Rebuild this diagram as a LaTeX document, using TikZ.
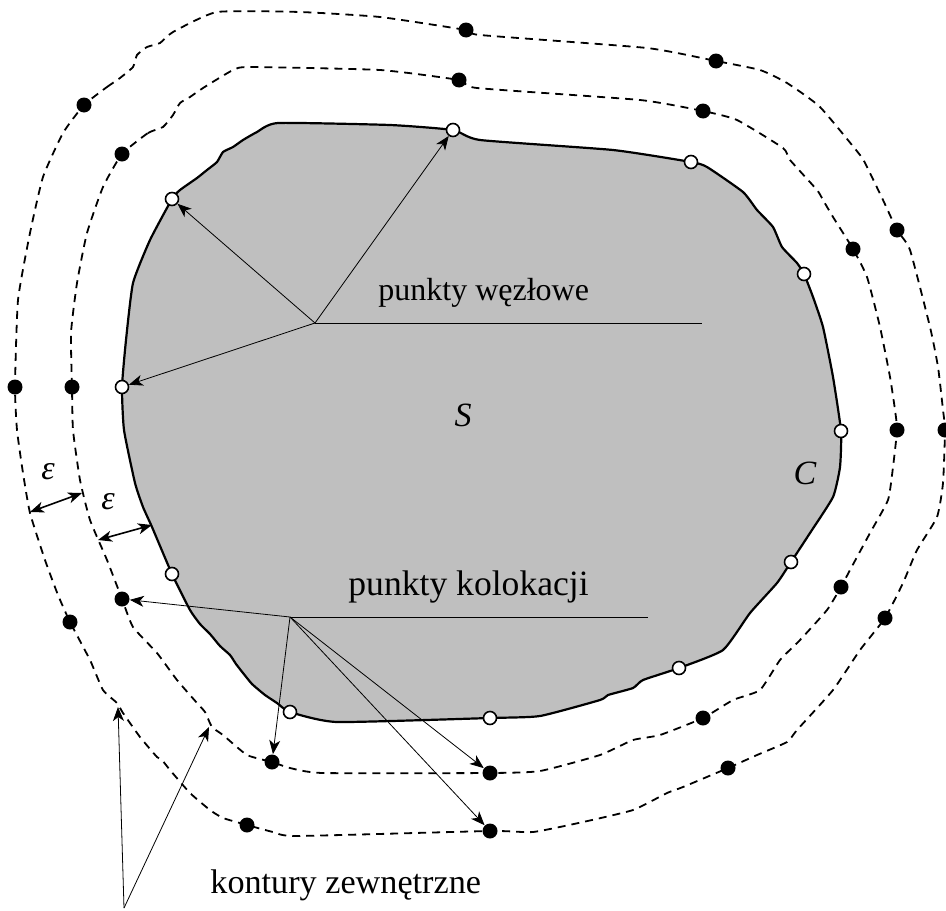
\documentclass[tikz,border=0pt]{standalone}
\usepackage{fontspec}
\setmainfont{Liberation Serif}
\usepackage{tikz}
\usetikzlibrary{arrows.meta}

\begin{document}
\begin{tikzpicture}[x=0.5pt, y=-0.5pt,
            wnode/.style={circle, draw=black, line width=0.8pt, fill=white, inner sep=0pt, minimum size=6.5pt},
            bnode/.style={circle, fill=black, inner sep=0pt, minimum size=7.5pt},
            contour/.style={line width=0.9pt, dash pattern=on 4pt off 3pt},
            arrow/.style={-{Stealth[length=7pt, width=5.5pt, inset=2pt]}, line width=0.4pt},
            darrow/.style={{Stealth[length=7pt, width=5.5pt, inset=2pt]}-{Stealth[length=7pt, width=5.5pt, inset=2pt]}, line width=0.8pt},
            lbl/.style={font=\fontsize{16}{19}\selectfont, inner sep=0pt}
        ]
            \useasboundingbox (0,0) rectangle (946,910);

            % Region S
            \draw[line width=1.1pt, fill=black!25] plot[smooth cycle, tension=0.3] coordinates {
                (278,123) (390,125) (453,130) (480,140) (613,150) (691,162) (707,167) (743,192)
                (757,210) (773,227) (782,247) (797,263) (804,274) (813,297) (823,327) (833,377)
                (841,431) (840,467) (833,497) (810,533) (791,562) (777,583) (750,613) (723,650)
                (679,668) (643,680) (633,688) (608,695) (600,700) (540,716) (490,718) (337,722)
                (290,712) (277,703) (265,695) (252,684) (243,673) (236,664) (230,655) (220,646)
                (210,634) (200,624) (190,610) (172,574) (152,527) (143,507) (135,483) (124,430)
                (122,387) (126,340) (133,283) (150,240) (172,199) (180,190) (197,178) (207,170)
                (217,162) (223,152) (233,147) (243,140) (257,132)};

            % Contours
            \draw[contour] plot[smooth cycle, tension=0.3] coordinates {
                (122,154) (148,133) (163,127) (173,115) (180,103) (190,97) (203,88) (233,70)
                (250,67) (380,70) (459,80) (477,88) (640,100) (703,111) (737,120) (783,148)
                (790,160) (817,190) (823,200) (833,217) (853,249) (867,277) (880,327) (890,377)
                (895,410) (897,430) (893,467) (888,500) (870,533) (850,570) (841,587) (827,610)
                (800,640) (780,660) (760,690) (733,700) (703,718) (660,735) (633,740) (600,755)
                (540,771) (490,773) (323,773) (290,768) (272,762) (247,755) (223,735) (212,727)
                (205,712) (197,703) (177,680) (157,653) (133,627) (122,599) (107,560) (90,520)
                (80,480) (73,430) (72,387) (71,333) (77,283) (87,233) (103,187)};
            \draw[contour] plot[smooth cycle, tension=0.3] coordinates {
                (84,105) (107,87) (120,78) (133,67) (137,55) (147,47) (160,43) (173,32)
                (217,12) (300,12) (380,17) (466,30) (480,35) (647,48) (716,61) (760,70)
                (787,83) (820,107) (860,155) (867,167) (883,200) (897,230) (910,250) (930,327)
                (938,367) (943,410) (945,430) (943,483) (937,517) (917,550) (903,583) (885,618)
                (860,650) (833,690) (797,730) (787,742) (757,755) (728,768) (683,787) (667,793)
                (633,810) (583,822) (533,832) (490,831) (297,836) (273,832) (247,825) (223,818)
                (210,810) (190,793) (170,770) (162,760) (157,757) (140,737) (123,713) (117,703)
                (103,690) (90,660) (70,622) (58,595) (45,560) (30,513) (23,473) (17,430)
                (15,387) (18,300) (30,233) (43,177) (63,133)};

            % Nodes
            \foreach \i/\x/\y in {1/172/199, 2/453/130, 3/691/162, 4/804/274, 5/841/431, 6/791/562,
                                  7/679/668, 8/490/718, 9/290/712, 10/172/574, 11/122/387} {
                \node[wnode] (w\i) at (\x,\y) {};
            }
            \foreach \i/\x/\y in {1/122/154, 2/459/80, 3/703/111, 4/853/249, 5/897/430, 6/841/587,
                                  7/703/718, 8/490/773, 9/272/762, 10/122/599, 11/72/387} {
                \node[bnode] (a\i) at (\x,\y) {};
            }
            \foreach \i/\x/\y in {1/84/105, 2/466/30, 3/716/61, 4/897/230, 5/945/430, 6/885/618,
                                  7/728/768, 8/490/831, 9/247/825, 10/70/622, 11/15/387} {
                \node[bnode] (b\i) at (\x,\y) {};
            }

            % Labels
            \node[lbl, anchor=base west] (wezly) at (378,300) {punkty węzłowe};
            \node[lbl, font=\fontsize{17.8}{21}\selectfont, anchor=base west] (kolok) at (348,595) {punkty kolokacji};
            \node[lbl, font=\fontsize{17.1}{20}\selectfont, anchor=base west] (kontury) at (210,893) {kontury zewnętrzne};
            \node[lbl, font=\fontsize{17}{20}\selectfont] (S) at (463,415) {\textit{S}};
            \node[lbl, font=\fontsize{17}{20}\selectfont] (C) at (805,473) {\textit{C}};
            \node[lbl, font=\fontsize{17}{20}\selectfont] (eps1) at (48,472) {\textit{ε}};
            \node[lbl, font=\fontsize{17}{20}\selectfont] (eps2) at (108,502) {\textit{ε}};

            % Pointers
            \coordinate (hw) at (315,323);
            \coordinate (hwend) at (702,323);
            \coordinate (hk) at (290,617);
            \coordinate (hkend) at (648,617);
            \coordinate (hc) at (124,908);
            \coordinate (c1) at (118,707);
            \coordinate (c2) at (209,727);
            \draw[line width=0.4pt] (hw) -- (hwend);
            \draw[line width=0.4pt] (hk) -- (hkend);
            \foreach \n in {w11, w1, w2} {
                \draw[arrow] (hw) -- (\n);
            }
            \foreach \n in {a10, a9, a8, b8} {
                \draw[arrow] (hk) -- (\n);
            }
            \draw[arrow] (hc) -- (c1);
            \draw[arrow] (hc) -- (c2);

            % Distances
            \coordinate (e1a) at (30,512);
            \coordinate (e1b) at (82,493);
            \coordinate (e2a) at (98,540);
            \coordinate (e2b) at (152,525);
            \draw[darrow] (e1a) -- (e1b);
            \draw[darrow] (e2a) -- (e2b);
        \end{tikzpicture}
\end{document}
